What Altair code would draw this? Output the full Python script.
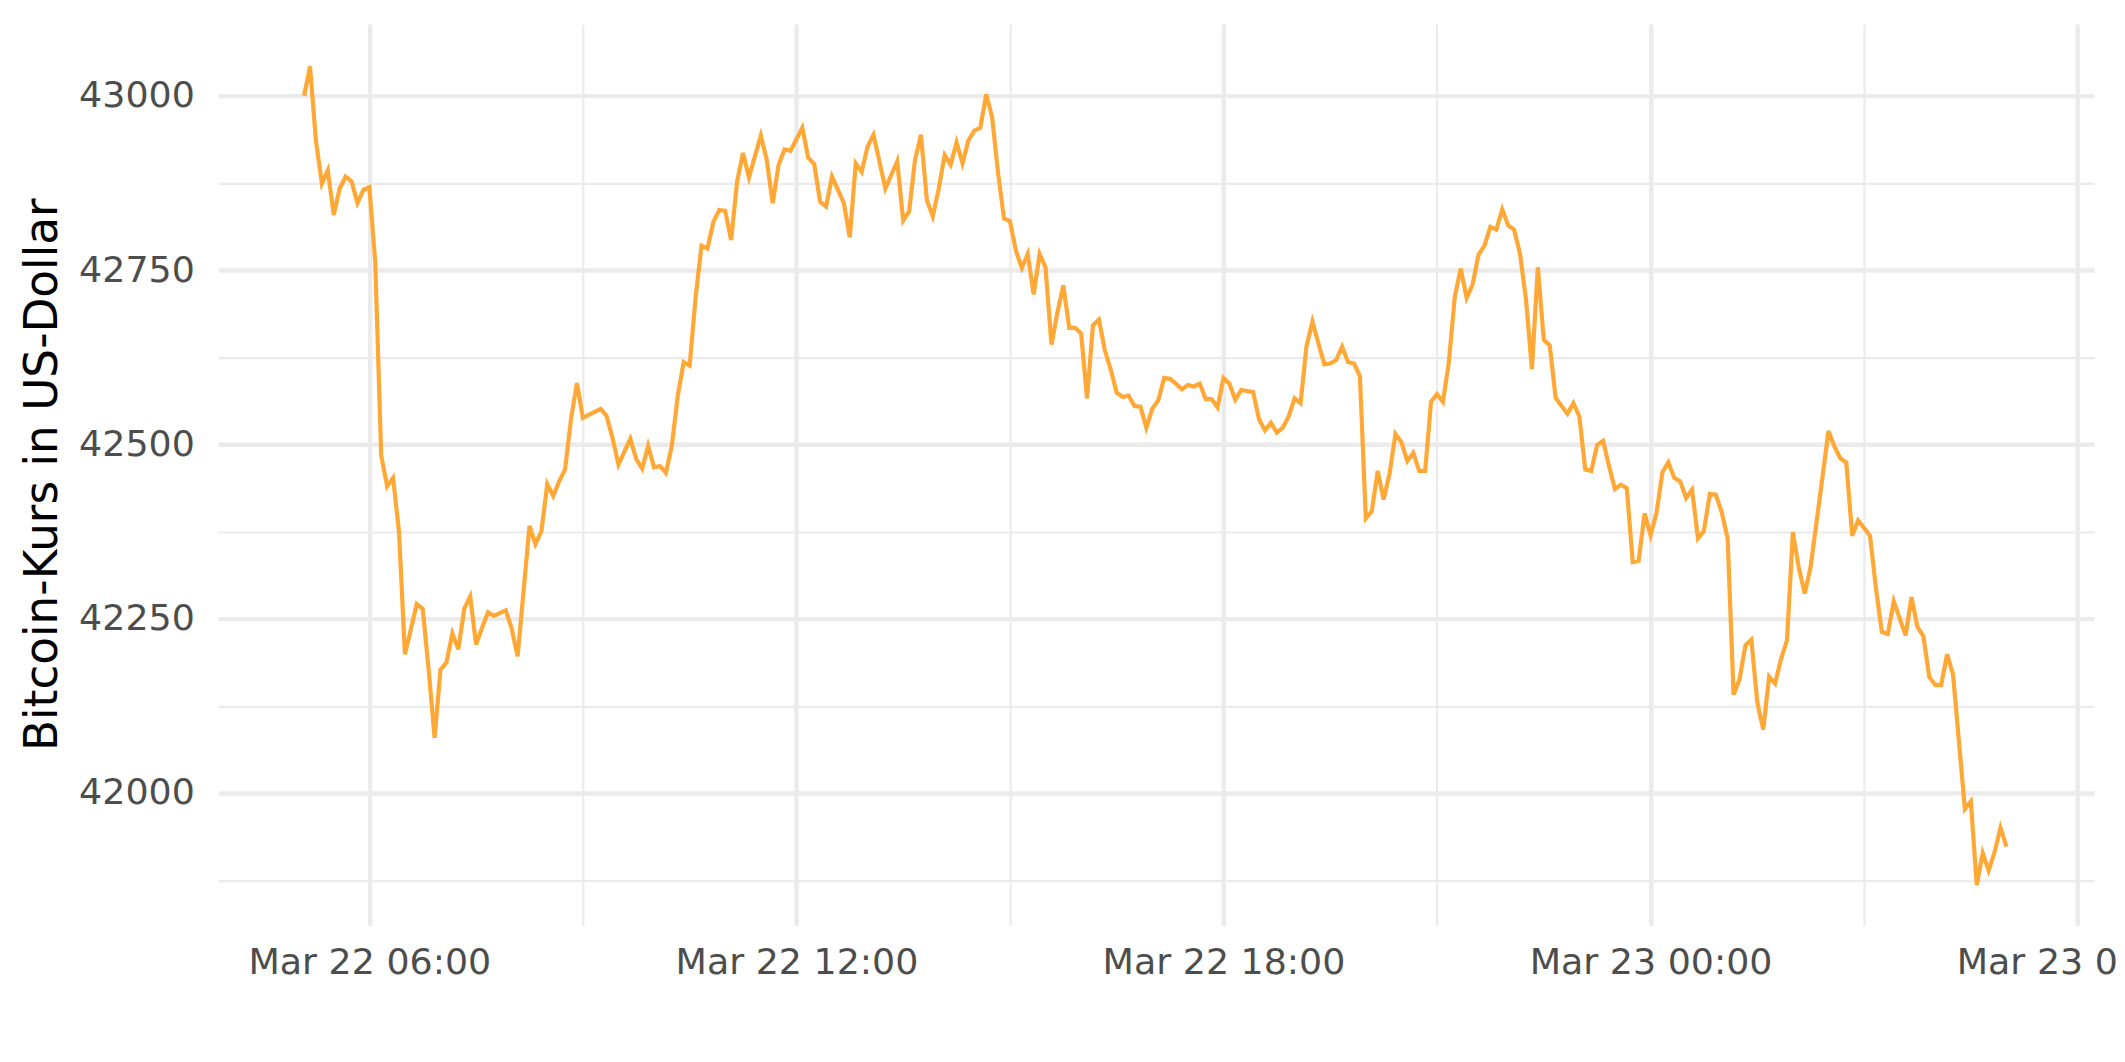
import altair as alt
import pandas as pd

# 5-minute samples, index k -> 2022-03-22 05:05 + 5*k minutes
start_time = "2022-03-22T05:05:00"
step_minutes = 5

sample_idx = [
    0, 1, 2, 3, 4, 5, 6, 7, 8, 9, 10, 11, 12, 13, 14, 15, 16, 17, 19, 20,
    21, 22, 23, 24, 25, 26, 27, 28, 29, 30, 31, 32, 34, 35, 36, 38, 39, 40, 41, 42,
    43, 44, 45, 46, 47, 50, 51, 52, 53, 55, 56, 57, 58, 59, 60, 61, 62, 63, 64, 65,
    66, 67, 68, 69, 70, 71, 72, 73, 74, 75, 77, 78, 79, 80, 81, 82, 84, 85, 86, 87,
    88, 89, 90, 91, 92, 93, 94, 95, 96, 98, 100, 101, 102, 103, 104, 105, 106, 107, 108, 109,
    110, 111, 112, 113, 114, 115, 116, 117, 118, 119, 120, 121, 122, 123, 124, 125, 126, 127, 128, 129,
    130, 131, 132, 133, 134, 135, 136, 137, 138, 139, 140, 141, 142, 143, 144, 145, 146, 147, 148, 149,
    150, 151, 152, 153, 154, 155, 156, 157, 158, 160, 161, 162, 163, 164, 165, 166, 167, 168, 169, 170,
    171, 172, 173, 174, 175, 176, 177, 178, 179, 180, 181, 182, 183, 184, 185, 186, 187, 188, 189, 190,
    191, 192, 193, 194, 195, 196, 197, 198, 199, 200, 201, 202, 203, 204, 205, 206, 207, 208, 209, 210,
    211, 212, 213, 214, 215, 216, 217, 218, 219, 220, 221, 222, 223, 224, 225, 226, 227, 228, 229, 230,
    231, 232, 233, 234, 235, 236, 237, 238, 239, 240, 241, 242, 243, 244, 245, 246, 247, 248, 249, 250,
    251, 252, 253, 254, 256, 257, 258, 259, 260, 261, 262, 263, 264, 265, 266, 267, 268, 270, 271, 272,
    273, 274, 275, 276, 277, 278, 280, 281, 282, 283, 284, 285, 286, 287,
]

price_usd = [
    43000, 43042, 42935, 42874, 42893, 42829, 42867, 42884, 42877, 42846, 42865, 42869, 42761, 42484, 42440, 42452, 42375, 42199, 42271, 42264,
    42177, 42079, 42177, 42187, 42229, 42206, 42264, 42282, 42213, 42237, 42259, 42254, 42262, 42236, 42196, 42383, 42357, 42375, 42443, 42426,
    42447, 42464, 42536, 42588, 42538, 42551, 42541, 42509, 42471, 42508, 42479, 42465, 42498, 42467, 42469, 42459, 42498, 42570, 42618, 42613,
    42710, 42785, 42781, 42819, 42836, 42835, 42793, 42877, 42918, 42883, 42943, 42908, 42846, 42901, 42923, 42921, 42954, 42911, 42902, 42848,
    42841, 42884, 42865, 42846, 42797, 42903, 42891, 42927, 42944, 42867, 42906, 42821, 42834, 42908, 42944, 42850, 42827, 42867, 42915, 42901,
    42933, 42903, 42936, 42950, 42954, 43002, 42969, 42889, 42824, 42820, 42778, 42753, 42773, 42715, 42773, 42754, 42643, 42689, 42728, 42667,
    42667, 42659, 42566, 42671, 42679, 42635, 42607, 42574, 42568, 42570, 42555, 42554, 42524, 42551, 42563, 42595, 42594, 42587, 42579, 42585,
    42583, 42587, 42565, 42565, 42553, 42595, 42587, 42564, 42578, 42575, 42536, 42520, 42531, 42517, 42524, 42540, 42566, 42559, 42641, 42676,
    42645, 42615, 42616, 42621, 42640, 42618, 42616, 42598, 42394, 42404, 42462, 42421, 42458, 42515, 42503, 42476, 42488, 42462, 42462, 42561,
    42572, 42561, 42618, 42712, 42752, 42710, 42729, 42772, 42785, 42812, 42808, 42837, 42814, 42808, 42773, 42708, 42608, 42754, 42650, 42642,
    42567, 42555, 42544, 42559, 42540, 42464, 42462, 42499, 42505, 42469, 42436, 42442, 42437, 42331, 42333, 42401, 42370, 42401, 42460, 42474,
    42452, 42447, 42423, 42435, 42365, 42376, 42429, 42428, 42403, 42365, 42141, 42163, 42212, 42220, 42130, 42091, 42167, 42157, 42192, 42219,
    42374, 42323, 42286, 42325, 42454, 42519, 42497, 42480, 42474, 42369, 42391, 42380, 42369, 42294, 42231, 42228, 42275, 42226, 42281, 42238,
    42225, 42166, 42155, 42155, 42199, 42170, 41977, 41988, 41868, 41914, 41889, 41915, 41950, 41923,
]

y_major = [42000, 42250, 42500, 42750, 43000]
y_minor = [41875, 42125, 42375, 42625, 42875]
y_domain = [41810, 43103]

x_major = [(22, 6), (22, 12), (22, 18), (23, 0), (23, 6)]
x_minor = [(22, 3), (22, 9), (22, 15), (22, 21), (23, 3)]

times = pd.Timestamp(start_time) + pd.to_timedelta([k * step_minutes for k in sample_idx], unit="m")
df = pd.DataFrame({"time": times.strftime("%Y-%m-%dT%H:%M:%S"), "price": price_usd})


def dt(d, h, m=0, s=0):
    return alt.DateTime(year=2022, month=3, date=d, hours=h, minutes=m, seconds=s)


x_scale = alt.Scale(domain=[dt(22, 3, 52, 36), dt(23, 6, 13, 54)])
y_scale = alt.Scale(domain=y_domain, nice=False, zero=False)

GRID = "#EBEBEB"
TEXT = "#4D4D4D"
FONT = "DejaVu Sans"

minor = alt.Chart(df).mark_line(opacity=0).encode(
    x=alt.X("time:T", scale=x_scale,
            axis=alt.Axis(values=[dt(d, h) for d, h in x_minor], labels=False, ticks=False,
                          domain=False, grid=True, gridColor=GRID, gridWidth=2.2,
                          title=None, orient="bottom")),
    y=alt.Y("price:Q", scale=y_scale,
            axis=alt.Axis(values=y_minor, labels=False, ticks=False, domain=False,
                          grid=True, gridColor=GRID, gridWidth=2.2, title=None,
                          orient="left")),
)

line = alt.Chart(df).mark_line(color="#FFA836", strokeWidth=4.2).encode(
    x=alt.X("time:T", scale=x_scale,
            axis=alt.Axis(values=[dt(d, h) for d, h in x_major], format="%b %d %H:%M",
                          labelFont=FONT, labelFontSize=36.5, labelColor=TEXT,
                          labelPadding=19, ticks=False, tickSize=0, domain=False,
                          grid=True, gridColor=GRID, gridWidth=4.4, title=None,
                          labelLimit=0, labelFlush=False, labelOverlap=False,
                          orient="bottom")),
    y=alt.Y("price:Q", scale=y_scale,
            axis=alt.Axis(values=y_major, format="d", labelFont=FONT, labelFontSize=36.5,
                          labelColor=TEXT, labelPadding=24, ticks=False, tickSize=0,
                          domain=False, grid=True, gridColor=GRID, gridWidth=4.4,
                          labelLimit=0,
                          title="Bitcoin-Kurs in US-Dollar", titleFont=FONT,
                          titleFontSize=45.5, titleFontWeight="normal", titleColor="black",
                          titleAngle=270, titleAlign="center", titleBaseline="alphabetic",
                          titleX=-162, titleY=452, labelFlush=False, orient="left")),
)

chart = alt.layer(minor, line).resolve_axis(x="independent", y="independent").properties(
    width=1883,
    height=905,
    autosize=alt.AutoSizeParams(type="none"),
    padding={"left": 211, "top": 14, "right": 23, "bottom": 120},
    background="white",
).configure_view(stroke=None)

chart.save("out.html", embed_options={"renderer": "svg", "actions": False})
